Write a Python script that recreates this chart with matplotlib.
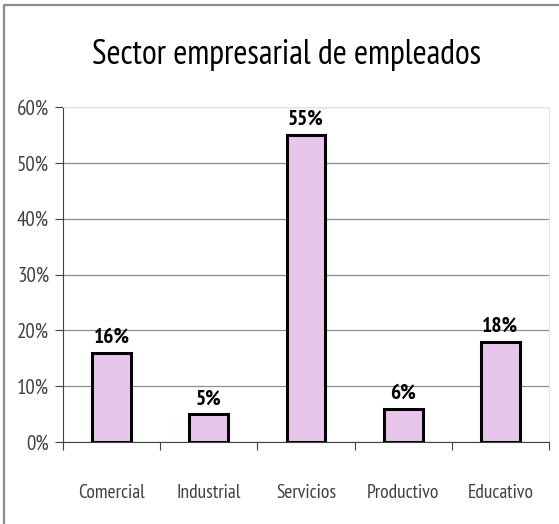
import matplotlib
matplotlib.use("Agg")
import matplotlib.pyplot as plt
from matplotlib.lines import Line2D
from matplotlib.ticker import FuncFormatter

sectores = ["Comercial", "Industrial", "Servicios", "Productivo", "Educativo"]
porcentajes = [16, 5, 55, 6, 18]
etiquetas_y = [0, 10, 20, 30, 40, 50, 60]

plt.rcParams["font.family"] = ["PT Sans Narrow", "DejaVu Sans"]

fig = plt.figure(figsize=(5.59, 5.24), dpi=100)
ax = fig.add_axes([63 / 559, 1 - 442 / 524, (549 - 63) / 559, (442 - 107) / 524])

# marco exterior (solo se ven el borde izquierdo y el superior)
bx, by = 4 / 559, 1 - 5 / 524
fig.lines.append(Line2D([bx, bx, 1], [0, by, by], transform=fig.transFigure,
                        color="#8c8c8c", linewidth=1.6))

x = range(len(sectores))
ax.bar(x, porcentajes, width=0.4, color="#e8c6ec", edgecolor="black", linewidth=2.2, zorder=3)

for xi, v in zip(x, porcentajes):
    ax.text(xi, v + 1.75, f"{v}%", ha="center", va="baseline", fontsize=15.5,
            fontweight="bold", color="black", zorder=4)

ax.set_xlim(-0.5, len(sectores) - 0.5)
ax.set_ylim(0, 60)
ax.set_yticks(etiquetas_y)
ax.yaxis.set_major_formatter(FuncFormatter(lambda v, p: f"{v:.0f}%"))
ax.set_xticks([i + 0.5 for i in range(-1, len(sectores))])
ax.set_xticklabels([])
ax.set_xticks(list(x), minor=True)
ax.set_xticklabels(sectores, minor=True)
ax.tick_params(axis="x", which="major", length=6, width=0.8, color="#404040", direction="out")
ax.tick_params(axis="x", which="minor", length=0, pad=30, labelsize=14, labelcolor="#404040")
ax.tick_params(axis="y", length=6, width=0.8, color="#404040", labelsize=15,
               labelcolor="#404040", pad=4)

ax.grid(axis="y", color="#8c8c8c", linewidth=0.9, zorder=0)
ax.spines["left"].set_color("#404040")
ax.spines["bottom"].set_color("#404040")
ax.spines["top"].set_color("#e6e2d6")
ax.spines["right"].set_color("#e6e2d6")

fig.text(0.513, 1 - 64 / 524, "Sector empresarial de empleados", ha="center", va="baseline",
         fontsize=24.5, color="black")

fig.savefig("out.png", dpi=100)
